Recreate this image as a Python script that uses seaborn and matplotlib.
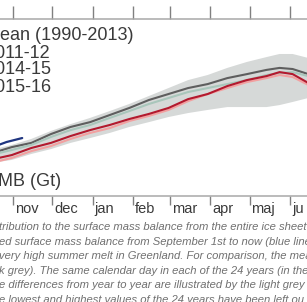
import pandas as pd
import seaborn as sns
import matplotlib.pyplot as plt

# days counted from 1 September
days = [50, 60, 75, 90, 105, 120, 135, 150, 165, 180, 195, 210, 225, 240, 255, 265, 275, 287]

mean_smb = [203, 221, 240, 280, 312, 334, 366, 398, 434, 461, 488, 506, 533, 551, 570, 579, 574, 551]
band_low = [154, 163, 190, 212, 240, 262, 285, 312, 334, 357, 375, 389, 402, 402, 402, 411, 425, 443]
band_high = [217, 231, 258, 294, 325, 353, 384, 416, 452, 488, 524, 547, 579, 606, 628, 642, 642, 624]
smb_2011 = [172, 185, 217, 240, 271, 298, 321, 348, 371, 398, 438, 461, 497, 524, 542, 560, 551, 511]
smb_2014 = [158, 172, 203, 226, 258, 285, 307, 339, 362, 389, 429, 461, 488, 515, 533, 547, 538, 502]
smb_2015 = [194, 208, 231, 267, 298, 321, 353, 384, 416, 443, 470, 488, 506, 524, 547, 556, 560, 542]

current_days = [50, 56, 62, 68]
current_smb = [231, 244, 253, 262]

month_starts = [61, 91, 122, 153, 181, 212, 242, 273]
month_labels = ["nov", "dec", "jan", "feb", "mar", "apr", "maj", "ju"]

legend_labels = ["Mean (1990-2013)", "2011-12", "2014-15", "2015-16"]

caption = [
    "tribution to the surface mass balance from the entire ice sheet",
    "ed surface mass balance from September 1st to now (blue line",
    "very high summer melt in Greenland. For comparison, the mea",
    "k grey). The same calendar day in each of the 24 years (in the",
    "e differences from year to year are illustrated by the light grey",
    "e lowest and highest values of the 24 years have been left ou",
]

sns.set_style("white")
plt.rcParams["font.family"] = ["Liberation Sans", "DejaVu Sans"]

df = pd.DataFrame({
    "day": days * 4,
    "smb": mean_smb + smb_2015 + smb_2014 + smb_2011,
    "season": (["Mean (1990-2013)"] * len(days) + ["2015-16"] * len(days)
               + ["2014-15"] * len(days) + ["2011-12"] * len(days)),
})
palette = {
    "Mean (1990-2013)": "#5e5e5e",
    "2015-16": "#a9c6bb",
    "2014-15": "#f2a0a0",
    "2011-12": "#b3192e",
}

fig = plt.figure(figsize=(3.07, 3.02), dpi=100)
ax = fig.add_axes([0, 0.351, 1, 0.586])

ax.fill_between(days, band_low, band_high, color="#d6d9d8", lw=0)
sns.lineplot(data=df, x="day", y="smb", hue="season", palette=palette,
             linewidth=1.5, legend=False, ax=ax)
sns.lineplot(x=current_days, y=current_smb, color="#1f3580", linewidth=1.6, ax=ax)

ax.set_xlim(51, 286)
ax.set_ylim(0, 800)
ax.set_xlabel("")
ax.set_ylabel("")
ax.set_yticks([])

for side in ["left", "right"]:
    ax.spines[side].set_visible(False)
for side in ["top", "bottom"]:
    ax.spines[side].set_color("#a8a8a8")
    ax.spines[side].set_linewidth(1.1)

ax.set_xticks(month_starts)
ax.set_xticklabels([])
ax.set_xticks([m + 1.5 for m in month_starts], minor=True)
ax.set_xticklabels(month_labels, minor=True, ha="left")
ax.tick_params(axis="x", which="major", direction="out", length=6.5,
               width=1, color="#808080", bottom=True, top=False)
ax.tick_params(axis="x", which="minor", length=0, pad=4, labelsize=10.5,
               labelcolor="#3a3a3a")

top = ax.secondary_xaxis("top")
top.set_xticks(month_starts)
top.set_xticklabels([])
top.tick_params(direction="out", length=9.5, width=1, color="#808080")
top.spines["top"].set_visible(False)

for label, y in zip(legend_labels, [36, 53, 70, 88]):
    fig.text(-15 / 307, 1 - y / 302, label, fontsize=13, color="#3a3a3a",
             va="center", ha="left")
fig.text(-14 / 307, 1 - 181 / 302, "SMB (Gt)", fontsize=13, color="#3a3a3a",
         va="center", ha="left")

for i, line in enumerate(caption):
    fig.text(-1 / 307, 1 - (227 + i * 14.6) / 302, line, fontsize=8.1,
             style="italic", color="#707070", va="center", ha="left")

fig.savefig("out.png", dpi=100)
